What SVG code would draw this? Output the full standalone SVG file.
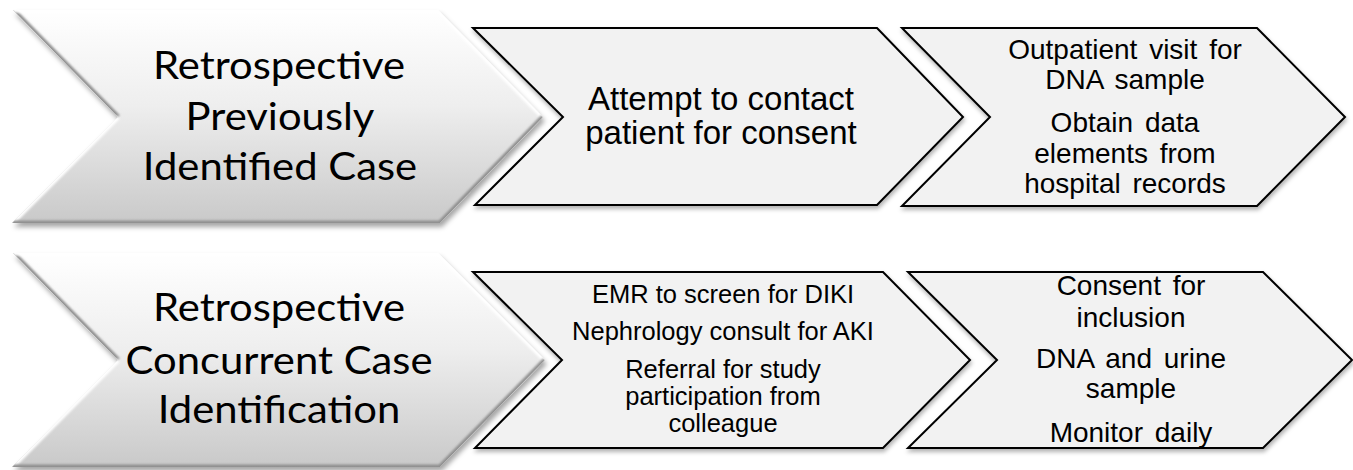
<svg xmlns="http://www.w3.org/2000/svg" width="1353" height="470" viewBox="0 0 1353 470">
  <defs>
    <linearGradient id="bigGrad" x1="0" y1="0" x2="0" y2="1">
      <stop offset="0" stop-color="#ffffff"/>
      <stop offset="0.45" stop-color="#eeeeee"/>
      <stop offset="1" stop-color="#c9c9c9"/>
    </linearGradient>
    <filter id="shadow" x="-5%" y="-5%" width="112%" height="115%">
      <feDropShadow dx="2" dy="4" stdDeviation="2.5" flood-color="#000" flood-opacity="0.35"/>
    </filter>
    <filter id="soft" x="-5%" y="-5%" width="110%" height="110%">
      <feGaussianBlur stdDeviation="1.2"/>
    </filter>
    <filter id="shadowSmall" x="-5%" y="-5%" width="110%" height="115%">
      <feDropShadow dx="1" dy="3" stdDeviation="2" flood-color="#000" flood-opacity="0.3"/>
    </filter>
    <clipPath id="clipA1"><polygon points="13,10 438,10 543,117 440,223 12,223 118,117"/></clipPath>
    <clipPath id="clipA2"><polygon points="13,253 438,253 545,360 440,467 12,467 118,360"/></clipPath>
  </defs>
  <style>
    .big { fill: url(#bigGrad); filter: url(#shadow); }
    .box { fill: #f2f2f2; stroke: #000; stroke-width: 2; stroke-linejoin: miter; filter: url(#shadowSmall); }
    .bevD { fill: none; stroke: #8f8f8f; stroke-width: 5; filter: url(#soft); }
    .bevL { fill: none; stroke: #ffffff; stroke-width: 5; filter: url(#soft); }
    .bigT { font-family: Lato, "Open Sans", sans-serif; font-size: 38px; fill: #000; text-anchor: middle; }
    .t33 { font-family: "Liberation Sans", Arial, sans-serif; font-size: 33px; fill: #000; text-anchor: middle; }
    .t28 { font-family: "Liberation Sans", Arial, sans-serif; font-size: 28px; fill: #000; text-anchor: middle; word-spacing: 4px; }
    .t25 { font-family: "Liberation Sans", Arial, sans-serif; font-size: 25.5px; fill: #000; text-anchor: middle; }
  </style>

  <g id="connectors"/>

  <g id="node-retro-previous">
    <polygon class="big" points="13,10 438,10 543,117 440,223 12,223 118,117"/>
    <g clip-path="url(#clipA1)">
      <polyline class="bevD" points="13,10 118,117"/>
      <polyline class="bevL" points="118,117 12,223"/>
      <polyline class="bevL" points="13,10 438,10 543,117"/>
      <polyline class="bevD" points="543,117 440,223 12,223"/>
    </g>
    <text class="bigT" transform="matrix(1.1,0,0,1,279,0)" x="0" y="79">Retrospective</text>
    <text class="bigT" transform="matrix(1.1,0,0,1,280,0)" x="0" y="130">Previously</text>
    <text class="bigT" transform="matrix(1.1,0,0,1,280,0)" x="0" y="180">Identified Case</text>
  </g>

  <g id="node-contact">
    <polygon class="box" points="473,28 877,28 963,117 877,205 475,205 563,117"/>
    <text class="t33" x="721" y="110">Attempt to contact</text>
    <text class="t33" x="721" y="144">patient for consent</text>
  </g>

  <g id="node-outpatient">
    <polygon class="box" points="902,28 1257,28 1345,117 1257,206 902,206 990,117"/>
    <text class="t28" x="1125" y="59">Outpatient visit for</text>
    <text class="t28" x="1125" y="89">DNA sample</text>
    <text class="t28" x="1125" y="132">Obtain data</text>
    <text class="t28" x="1125" y="163">elements from</text>
    <text class="t28" x="1125" y="193">hospital records</text>
  </g>

  <g id="node-retro-concurrent">
    <polygon class="big" points="13,253 438,253 545,360 440,467 12,467 118,360"/>
    <g clip-path="url(#clipA2)">
      <polyline class="bevD" points="13,253 118,360"/>
      <polyline class="bevL" points="118,360 12,467"/>
      <polyline class="bevL" points="13,253 438,253 545,360"/>
      <polyline class="bevD" points="545,360 440,467 12,467"/>
    </g>
    <text class="bigT" transform="matrix(1.1,0,0,1,279,0)" x="0" y="321">Retrospective</text>
    <text class="bigT" transform="matrix(1.1,0,0,1,279,0)" x="0" y="374">Concurrent Case</text>
    <text class="bigT" transform="matrix(1.1,0,0,1,279,0)" x="0" y="423">Identification</text>
  </g>

  <g id="node-screening">
    <polygon class="box" points="473,272 883,272 970,360 883,448 475,448 562,360"/>
    <text class="t25" x="723" y="303">EMR to screen for DIKI</text>
    <text class="t25" x="723" y="340">Nephrology consult for AKI</text>
    <text class="t25" x="723" y="378">Referral for study</text>
    <text class="t25" x="723" y="405">participation from</text>
    <text class="t25" x="723" y="432">colleague</text>
  </g>

  <g id="node-consent">
    <polygon class="box" points="908,272 1263,272 1352,360 1263,448 908,448 997,360"/>
    <text class="t28" x="1131" y="295">Consent for</text>
    <text class="t28" x="1131" y="327">inclusion</text>
    <text class="t28" x="1131" y="368">DNA and urine</text>
    <text class="t28" x="1131" y="398">sample</text>
    <text class="t28" x="1131" y="442">Monitor daily</text>
  </g>
</svg>
